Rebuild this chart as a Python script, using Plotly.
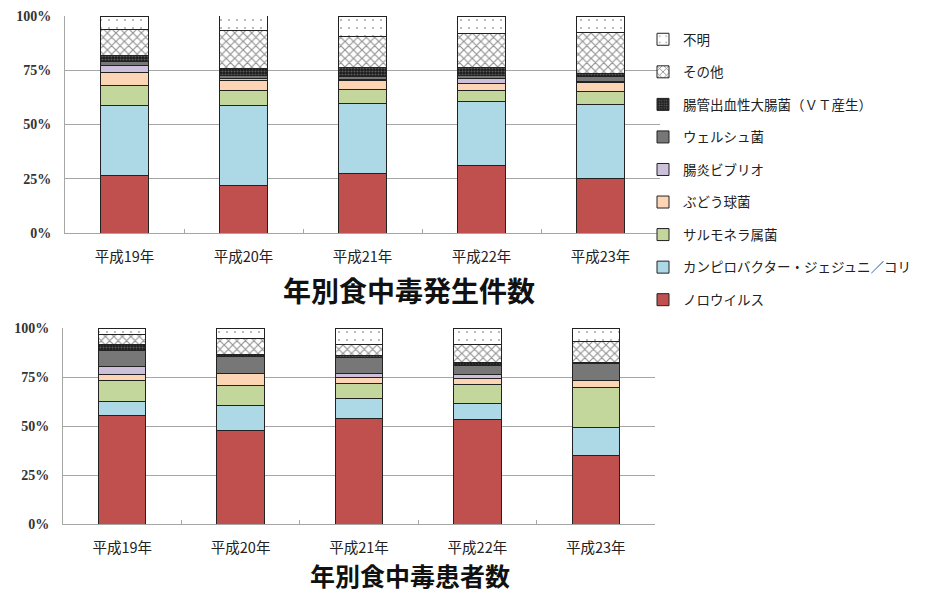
import plotly.graph_objects as go

years = ["平成19年", "平成20年", "平成21年", "平成22年", "平成23年"]
categories = ["ノロウイルス", "カンピロバクター・ジェジュニ／コリ", "サルモネラ属菌", "ぶどう球菌",
              "腸炎ビブリオ", "ウェルシュ菌", "腸管出血性大腸菌（ＶＴ産生）", "その他", "不明"]
y_ticks = [0, 25, 50, 75, 100]
y_tick_labels = ["0%", "25%", "50%", "75%", "100%"]

# 年別食中毒発生件数 (%)
cases = {
    "ノロウイルス": [26.7, 21.8, 27.2, 31.3, 25.2],
    "カンピロバクター・ジェジュニ／コリ": [32.0, 36.9, 32.6, 29.2, 33.8],
    "サルモネラ属菌": [9.2, 7.2, 6.4, 5.4, 6.1],
    "ぶどう球菌": [6.0, 4.3, 4.0, 2.8, 4.2],
    "腸炎ビブリオ": [3.1, 0.8, 0.4, 2.6, 0.5],
    "ウェルシュ菌": [1.9, 1.7, 1.5, 1.3, 2.2],
    "腸管出血性大腸菌（ＶＴ産生）": [2.8, 2.9, 4.3, 3.8, 1.3],
    "その他": [12.3, 17.7, 14.1, 15.6, 19.0],
    "不明": [6.0, 6.9, 9.5, 8.0, 7.7],
}

# 年別食中毒患者数 (%)
patients = {
    "ノロウイルス": [55.2, 47.5, 53.7, 53.5, 34.9],
    "カンピロバクター・ジェジュニ／コリ": [7.1, 12.8, 10.5, 8.2, 14.5],
    "サルモネラ属菌": [10.8, 10.6, 7.7, 9.3, 20.5],
    "ぶどう球菌": [3.4, 5.8, 3.1, 3.4, 3.3],
    "腸炎ビブリオ": [3.9, 0.3, 2.0, 1.7, 0.2],
    "ウェルシュ菌": [8.2, 8.7, 7.7, 4.6, 8.4],
    "腸管出血性大腸菌（ＶＴ産生）": [2.9, 0.7, 1.1, 1.7, 0.6],
    "その他": [5.1, 8.2, 5.7, 9.4, 10.8],
    "不明": [3.4, 5.1, 8.5, 8.2, 6.8],
}

colors = {
    "ノロウイルス": "#C0504D",
    "カンピロバクター・ジェジュニ／コリ": "#ADD8E6",
    "サルモネラ属菌": "#C3D69B",
    "ぶどう球菌": "#FCD5B4",
    "腸炎ビブリオ": "#CCC0DA",
    "ウェルシュ菌": "#777777",
    "腸管出血性大腸菌（ＶＴ産生）": "#1A1A1A",
    "その他": "#FFFFFF",
    "不明": "#FFFFFF",
}
patterns = {
    "腸管出血性大腸菌（ＶＴ産生）": dict(shape=".", fgcolor="#9A9A9A", bgcolor="#1A1A1A", size=3, solidity=0.4),
    "その他": dict(shape="x", fgcolor="#222222", bgcolor="#FFFFFF", size=6, solidity=0.35),
    "不明": dict(shape=".", fgcolor="#555555", bgcolor="#FFFFFF", size=8, solidity=0.06),
}

FONT = "Noto Sans CJK JP"
W, H = 930, 592
ML, MR, MT, MB = 63, 5, 16, 68
PW = W - ML - MR          # paper width in px
PH = H - MT - MB          # paper height in px


def px_x(px):
    return (px - ML) / PW


def px_y(px):
    return (H - MB - px) / PH


fig = go.Figure()

n = len(categories)
for i, cat in enumerate(categories):
    for data, xa, ya, show in [(cases, "x", "y", True), (patients, "x2", "y2", False)]:
        marker = dict(color=colors[cat], line=dict(color="#222222", width=1))
        if cat in patterns:
            marker["pattern"] = patterns[cat]
        fig.add_trace(go.Bar(
            x=years, y=data[cat], name=cat, xaxis=xa, yaxis=ya,
            marker=marker, legendgroup=cat, showlegend=show, legendrank=n - i,
        ))

axis_common = dict(showgrid=False, showline=True, linecolor="#A6A6A6", linewidth=1,
                   ticks="inside", tickson="boundaries", ticklen=4, tickcolor="#A6A6A6",
                   ticklabelstandoff=11, automargin=False,
                   tickfont=dict(family=FONT, size=14.5, color="#222222"))
yaxis_common = dict(range=[0, 100], tickmode="array", tickvals=y_ticks, ticktext=y_tick_labels,
                    showgrid=True, gridcolor="#A6A6A6", gridwidth=1, showline=True,
                    linecolor="#A6A6A6", zeroline=False, automargin=False, ticklabelstandoff=10,
                    tickfont=dict(family="Liberation Serif", size=14, color="#333333", weight="bold"))

fig.update_layout(
    width=W, height=H,
    margin=dict(l=ML, r=MR, t=MT, b=MB),
    barmode="stack", bargap=0.6,
    plot_bgcolor="white", paper_bgcolor="white",
    font=dict(family=FONT, color="#222222"),
    xaxis=dict(domain=[px_x(65), px_x(660)], anchor="y", **axis_common),
    yaxis=dict(domain=[px_y(233), px_y(16)], anchor="x", **yaxis_common),
    xaxis2=dict(domain=[px_x(63), px_x(655)], anchor="y2", **axis_common),
    yaxis2=dict(domain=[px_y(524), px_y(328)], anchor="x2", **yaxis_common),
    legend=dict(x=px_x(643), y=px_y(24), xanchor="left", yanchor="top",
                traceorder="grouped", tracegroupgap=12,
                font=dict(family=FONT, size=13.5, color="#222222"),
                itemwidth=30, bgcolor="rgba(0,0,0,0)"),
    annotations=[
        dict(text="<b>年別食中毒発生件数</b>", x=px_x(409), y=px_y(290), xref="paper", yref="paper",
             xanchor="center", yanchor="middle",
             showarrow=False, font=dict(family=FONT, size=28, color="#111111")),
        dict(text="<b>年別食中毒患者数</b>", x=px_x(410), y=px_y(575), xref="paper", yref="paper",
             xanchor="center", yanchor="middle",
             showarrow=False, font=dict(family=FONT, size=25, color="#111111")),
    ],
)

fig.write_html("out.html")
